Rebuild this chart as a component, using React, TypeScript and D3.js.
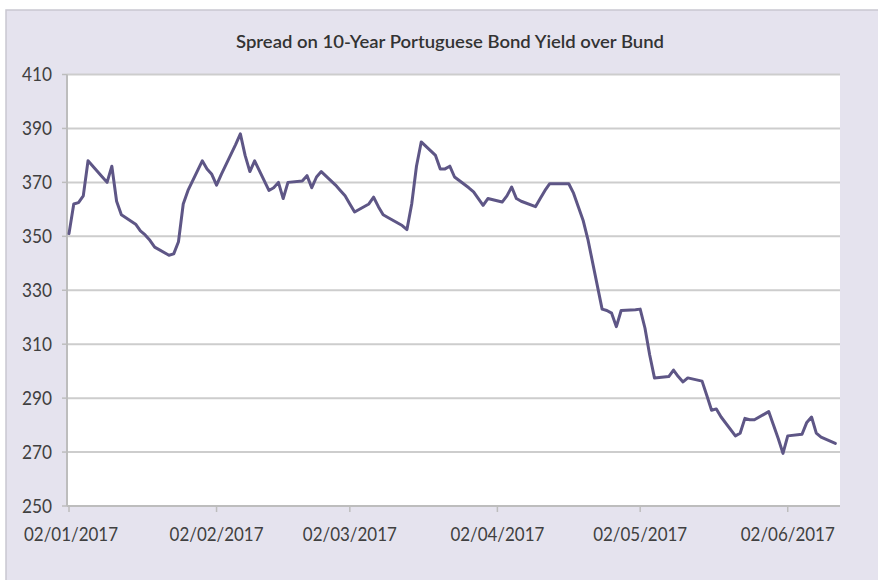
import React from "react";
import * as d3 from "d3";

const title = "Spread on 10-Year Portuguese Bond Yield over Bund";

const dates: string[] = [
  "2017-01-02", "2017-01-03", "2017-01-04", "2017-01-05", "2017-01-06",
  "2017-01-09", "2017-01-10", "2017-01-11", "2017-01-12", "2017-01-13",
  "2017-01-16", "2017-01-17", "2017-01-18", "2017-01-19", "2017-01-20",
  "2017-01-23", "2017-01-24", "2017-01-25", "2017-01-26", "2017-01-27",
  "2017-01-30", "2017-01-31", "2017-02-01", "2017-02-02", "2017-02-03",
  "2017-02-06", "2017-02-07", "2017-02-08", "2017-02-09", "2017-02-10",
  "2017-02-13", "2017-02-14", "2017-02-15", "2017-02-16", "2017-02-17",
  "2017-02-20", "2017-02-21", "2017-02-22", "2017-02-23", "2017-02-24",
  "2017-02-27", "2017-02-28", "2017-03-01", "2017-03-02", "2017-03-03",
  "2017-03-06", "2017-03-07", "2017-03-08", "2017-03-09", "2017-03-10",
  "2017-03-13", "2017-03-14", "2017-03-15", "2017-03-16", "2017-03-17",
  "2017-03-20", "2017-03-21", "2017-03-22", "2017-03-23", "2017-03-24",
  "2017-03-27", "2017-03-28", "2017-03-29", "2017-03-30", "2017-03-31",
  "2017-04-03", "2017-04-04", "2017-04-05", "2017-04-06", "2017-04-07",
  "2017-04-10", "2017-04-11", "2017-04-12", "2017-04-13", "2017-04-14",
  "2017-04-17", "2017-04-18", "2017-04-19", "2017-04-20", "2017-04-21",
  "2017-04-24", "2017-04-25", "2017-04-26", "2017-04-27", "2017-04-28",
  "2017-05-01", "2017-05-02", "2017-05-03", "2017-05-04", "2017-05-05",
  "2017-05-08", "2017-05-09", "2017-05-10", "2017-05-11", "2017-05-12",
  "2017-05-15", "2017-05-16", "2017-05-17", "2017-05-18", "2017-05-19",
  "2017-05-22", "2017-05-23", "2017-05-24", "2017-05-25", "2017-05-26",
  "2017-05-29", "2017-05-30", "2017-05-31", "2017-06-01", "2017-06-02",
  "2017-06-05", "2017-06-06", "2017-06-07", "2017-06-08", "2017-06-09",
  "2017-06-12",
];

const spread: number[] = [
  351, 362, 362.5, 365, 378,
  372, 370, 376, 363, 358,
  354.5, 352, 350.5, 348.5, 346,
  343, 343.5, 348, 362, 367,
  378, 375, 373, 369, 373,
  384, 388, 380, 374, 378,
  367, 368, 370, 364, 370,
  370.5, 372.5, 368, 372, 374,
  369, 367, 365, 362, 359,
  362, 364.5, 361, 358, 357,
  354, 352.5, 362, 376, 385,
  380, 375, 375, 376, 372,
  368, 366.5, 364, 361.5, 364,
  362.7, 365, 368.3, 364, 363,
  361, 364, 367, 369.5, 369.5,
  369.5, 366, 361, 356, 349,
  323, 322.5, 321.5, 316.5, 322.5,
  322.8, 323, 316, 306, 297.5,
  298, 300.4, 298, 296, 297.5,
  296.3, 291, 285.5, 286, 283,
  276, 277, 282.5, 282, 282,
  285, 280, 275, 269.5, 276,
  276.6, 281, 283, 277, 275.5,
  273.2,
];

const yTicks: number[] = [250, 270, 290, 310, 330, 350, 370, 390, 410];
const xTickDates: string[] = [
  "2017-01-02", "2017-02-02", "2017-03-02", "2017-04-02", "2017-05-02", "2017-06-02",
];

const FONT = "Lato, 'Open Sans', 'DejaVu Sans', sans-serif";

export default function App() {
  const W = 878;
  const H = 580;
  const parse = d3.utcParse("%Y-%m-%d");
  const fmt = d3.utcFormat("%d/%m/%Y");

  const plotL = 67;
  const plotR = 840;
  const x = d3
    .scaleUtc()
    .domain([parse("2017-01-02") as Date, parse("2017-06-13") as Date])
    .range([69, 840.1]);
  const y = d3.scaleLinear().domain([250, 410]).range([506, 74.5]);

  const points = dates.map((d, i) => ({ date: parse(d) as Date, v: spread[i] }));
  const line = d3
    .line<{ date: Date; v: number }>()
    .x((p) => x(p.date))
    .y((p) => y(p.v));

  return (
    <svg
      width={W}
      height={H}
      style={{ position: "absolute", left: 0, top: 0, display: "block" }}
      fontFamily={FONT}
    >
      <rect x={0} y={0} width={W} height={H} fill="#ffffff" />
      <rect x={6} y={10} width={W + 10} height={H + 10} fill="#e5e3ee" stroke="#c9c7d1" strokeWidth={1.5} />
      <text
        x={450}
        y={48}
        textAnchor="middle"
        fontSize={17}
        fontWeight={600}
        fill="#333333"
        textLength={428}
        lengthAdjust="spacingAndGlyphs"
      >
        {title}
      </text>
      <rect x={plotL} y={y(410)} width={plotR - plotL} height={y(250) - y(410)} fill="#ffffff" />
      {yTicks.map((t) => (
        <g key={t}>
          <line
            x1={plotL}
            x2={plotR}
            y1={y(t)}
            y2={y(t)}
            stroke={t === 250 ? "#bdbdbd" : "#cdcdcd"}
            strokeWidth={2}
          />
          <line x1={plotL - 5} x2={plotL} y1={y(t)} y2={y(t)} stroke="#bdbdbd" strokeWidth={1.5} />
          <text
            x={52}
            y={y(t) + 6.5}
            textAnchor="end"
            fontSize={18.5}
            fill="#404040"
            textLength={30}
            lengthAdjust="spacingAndGlyphs"
          >
            {t}
          </text>
        </g>
      ))}
      <line x1={plotL} x2={plotL} y1={y(410)} y2={y(250)} stroke="#bdbdbd" strokeWidth={2} />
      {xTickDates.map((s) => {
        const d = parse(s) as Date;
        const px = Math.max(x(d), plotL);
        return (
          <g key={s}>
            <line x1={px} x2={px} y1={y(250)} y2={y(250) + 6} stroke="#bdbdbd" strokeWidth={1.5} />
            <text
              x={x(d) + (s === "2017-01-02" ? 2 : 0)}
              y={541}
              textAnchor="middle"
              fontSize={18.5}
              fill="#404040"
              textLength={94}
              lengthAdjust="spacingAndGlyphs"
            >
              {fmt(d)}
            </text>
          </g>
        );
      })}
      <path
        d={line(points) || ""}
        fill="none"
        stroke="#5e5686"
        strokeWidth={3}
        strokeLinejoin="round"
        strokeLinecap="round"
      />
    </svg>
  );
}
